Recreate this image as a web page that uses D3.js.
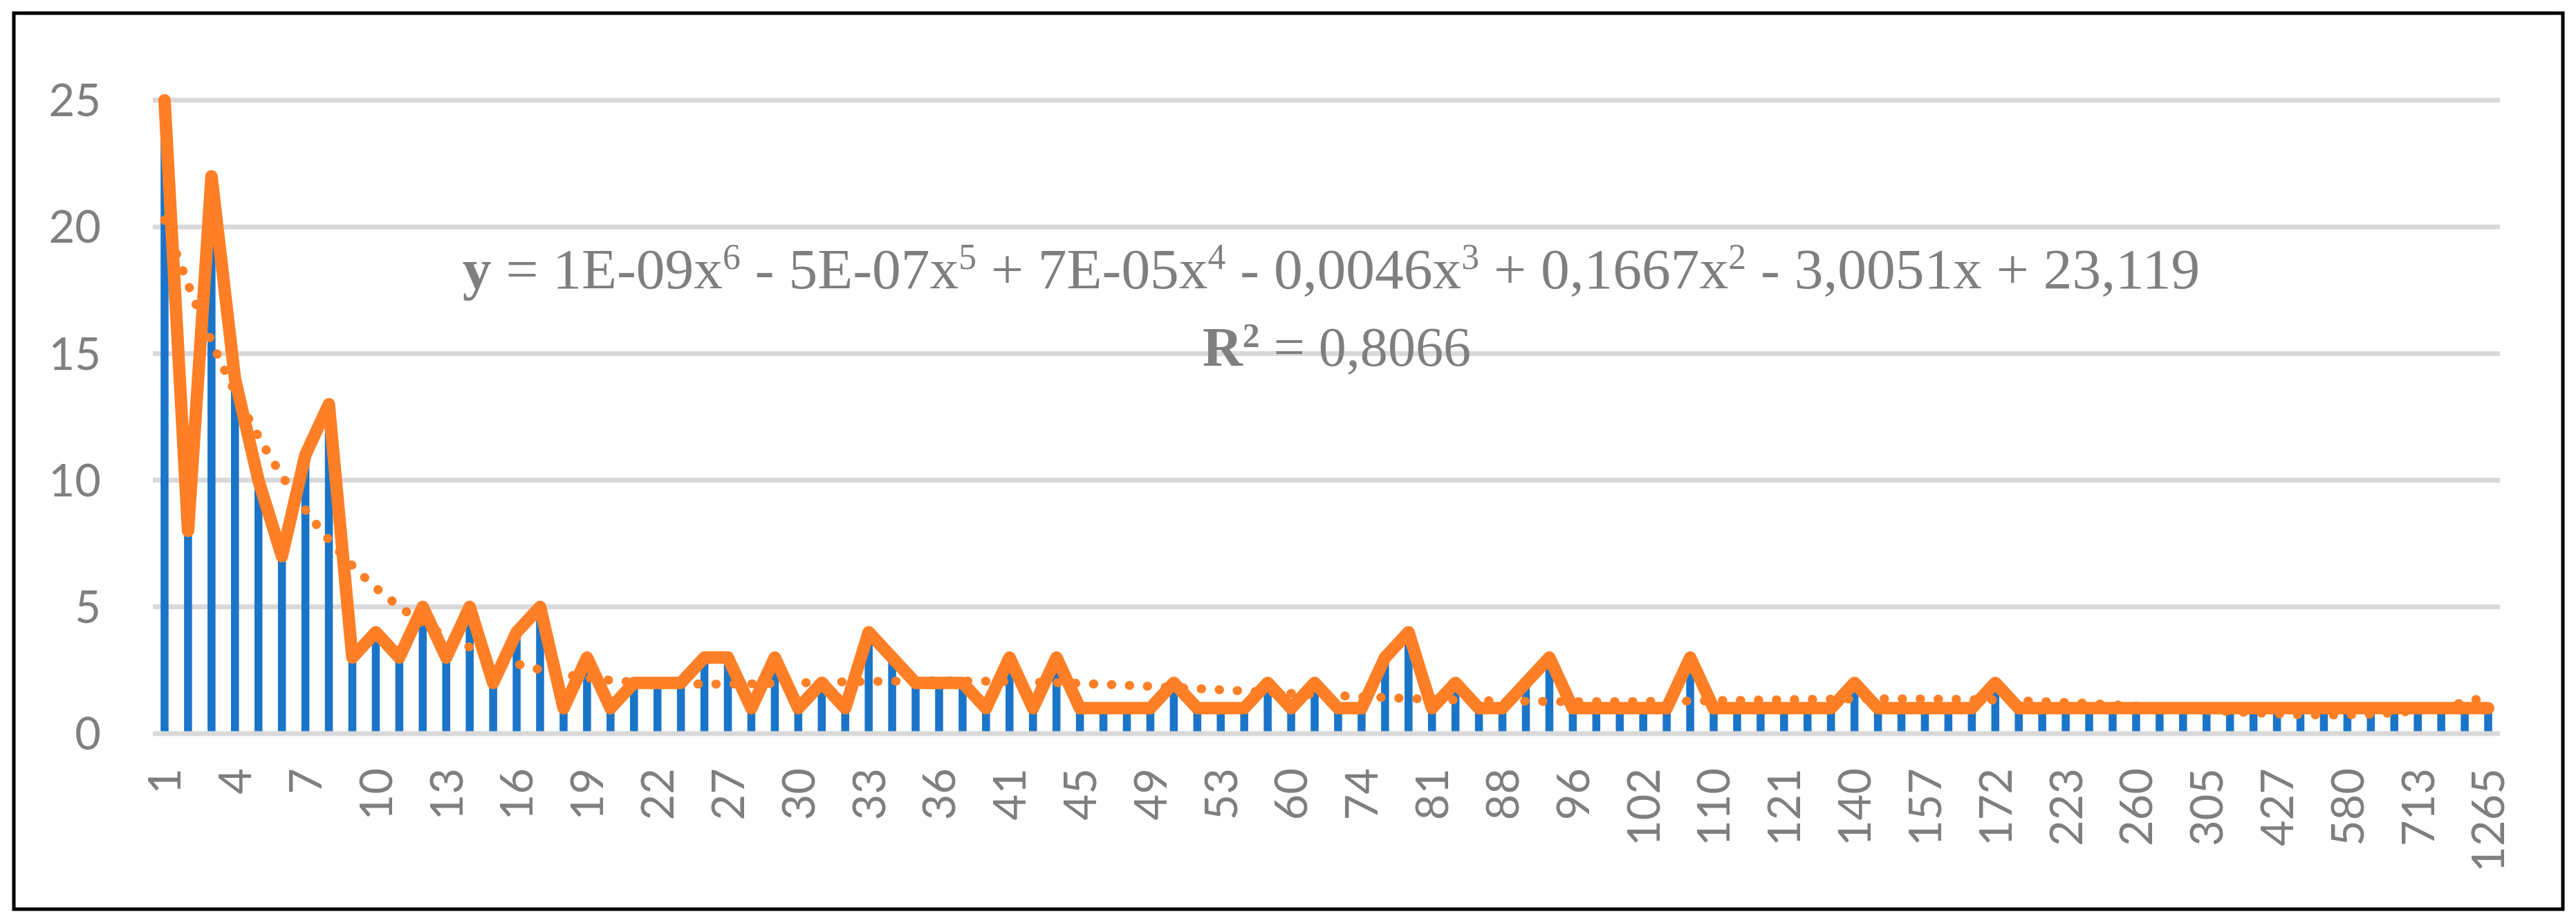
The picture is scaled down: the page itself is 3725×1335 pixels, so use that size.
<!DOCTYPE html>
<html>
<head>
<meta charset="utf-8">
<script src="https://cdn.jsdelivr.net/npm/d3@7"></script>
<style>
  html, body { margin: 0; padding: 0; background: #ffffff; }
  svg { display: block; }
</style>
</head>
<body>
<svg id="chart" width="3725" height="1335"></svg>
<script>
// ---------- DATA ----------
const categories = [
  "1","2","3","4","5","6","7","8","9","10",
  "11","12","13","14","15","16","17","18","19","20",
  "21","22","23","25","27","28","29","30","31","32",
  "33","34","35","36","38","40","41","42","44","45",
  "47","48","49","50","51","53","55","58","60","64",
  "70","74","76","78","81","84","86","88","90","94",
  "96","98","100","102","105","107","110","113","118","121",
  "125","133","140","145","150","157","162","168","172","185",
  "200","223","235","250","260","270","290","305","340","380",
  "427","470","520","580","620","670","713","800","1000","1265"
];
const values = [
  25, 8, 22, 14, 10, 7, 11, 13, 3, 4,
  3, 5, 3, 5, 2, 4, 5, 1, 3, 1,
  2, 2, 2, 3, 3, 1, 3, 1, 2, 1,
  4, 3, 2, 2, 2, 1, 3, 1, 3, 1,
  1, 1, 1, 2, 1, 1, 1, 2, 1, 2,
  1, 1, 3, 4, 1, 2, 1, 1, 2, 3,
  1, 1, 1, 1, 1, 3, 1, 1, 1, 1,
  1, 1, 2, 1, 1, 1, 1, 1, 2, 1,
  1, 1, 1, 1, 1, 1, 1, 1, 1, 1,
  1, 1, 1, 1, 1, 1, 1, 1, 1, 1
];
const yTicks = [0, 5, 10, 15, 20, 25];
const labelEvery = 3;
const equationParts = [
  {t: "y", bold: true}, {t: " = 1E-09x"}, {t: "6", sup: true},
  {t: " - 5E-07x"}, {t: "5", sup: true},
  {t: " + 7E-05x"}, {t: "4", sup: true},
  {t: " - 0,0046x"}, {t: "3", sup: true},
  {t: " + 0,1667x"}, {t: "2", sup: true},
  {t: " - 3,0051x + 23,119"}
];
const r2Parts = [{t: "R", bold: true}, {t: "2", sup: true, bold: true}, {t: " = 0,8066"}];
const polyDegree = 6;

// ---------- LAYOUT ----------
const svg = d3.select("#chart");
const plot = {left: 221, right: 3615, top: 145, bottom: 1061};
const axisGrey = "#7f7f7f";
const gridGrey = "#d9d9d9";
const blue = "#1a75c9";
const orange = "#fe7f26";

svg.append("rect").attr("x", 0).attr("y", 0).attr("width", 3725).attr("height", 1335).attr("fill", "#fff");
svg.append("rect").attr("x", 20).attr("y", 19).attr("width", 3686).attr("height", 1296)
  .attr("fill", "none").attr("stroke", "#000").attr("stroke-width", 5);

const x = d3.scaleBand().domain(categories).range([plot.left, plot.right])
  .paddingInner(0.66).paddingOuter(0.33);
const y = d3.scaleLinear().domain([0, 25]).range([plot.bottom, plot.top]);
const cx = c => x(c) + x.bandwidth() / 2;

// gridlines
svg.append("g").selectAll("line").data(yTicks.filter(d => d > 0)).join("line")
  .attr("x1", plot.left).attr("x2", plot.right)
  .attr("y1", d => y(d)).attr("y2", d => y(d))
  .attr("stroke", gridGrey).attr("stroke-width", 7);

// y axis labels
const yAxis = d3.axisLeft(y).tickValues(yTicks).tickSize(0).tickPadding(0).tickFormat(d3.format("d"));
const gy = svg.append("g").attr("transform", "translate(146,0)").call(yAxis);
gy.select(".domain").remove();
gy.selectAll("text").attr("font-family", "Lato, 'Open Sans', sans-serif")
  .attr("font-size", 65).attr("fill", axisGrey).attr("dy", "0.35em");

// bars
svg.append("g").selectAll("rect").data(values).join("rect")
  .attr("x", (d, i) => x(categories[i]))
  .attr("width", x.bandwidth())
  .attr("y", d => y(d))
  .attr("height", d => y(0) - y(d))
  .attr("fill", blue);

// zero axis line
svg.append("line").attr("x1", plot.left).attr("x2", plot.right)
  .attr("y1", y(0)).attr("y2", y(0)).attr("stroke", gridGrey).attr("stroke-width", 7);

// x axis labels
const xAxis = d3.axisBottom(x)
  .tickValues(categories.filter((c, i) => i % labelEvery === 0))
  .tickSize(0).tickPadding(0);
const gx = svg.append("g").attr("transform", `translate(0,${y(0)})`).call(xAxis);
gx.select(".domain").remove();
gx.selectAll(".tick text")
  .attr("font-family", "Lato, 'Open Sans', sans-serif")
  .attr("font-size", 65).attr("fill", axisGrey)
  .attr("text-anchor", "end")
  .attr("transform", "translate(0,50) rotate(-90)")
  .attr("x", 0).attr("y", 0).attr("dy", "0.36em");

// polynomial trendline (least squares, order 6) from the data
function polyFit(xs, ys, deg) {
  const n = deg + 1;
  const A = Array.from({length: n}, () => new Array(n + 1).fill(0));
  for (let k = 0; k < xs.length; k++) {
    const p = [];
    for (let j = 0; j < n; j++) p.push(Math.pow(xs[k], j));
    for (let r = 0; r < n; r++) {
      for (let c = 0; c < n; c++) A[r][c] += p[r] * p[c];
      A[r][n] += p[r] * ys[k];
    }
  }
  for (let c = 0; c < n; c++) {
    let piv = c;
    for (let r = c + 1; r < n; r++) if (Math.abs(A[r][c]) > Math.abs(A[piv][c])) piv = r;
    [A[c], A[piv]] = [A[piv], A[c]];
    for (let r = 0; r < n; r++) {
      if (r === c) continue;
      const f = A[r][c] / A[c][c];
      for (let k = c; k <= n; k++) A[r][k] -= f * A[c][k];
    }
  }
  return A.map((row, i) => row[n] / row[i]);
}
const xsScaled = values.map((v, i) => (i + 1) / 100);
const coef = polyFit(xsScaled, values, polyDegree);
const polyEval = t => coef.reduce((s, c, j) => s + c * Math.pow(t, j), 0);
const xPos = d3.scaleLinear().domain([1, categories.length])
  .range([cx(categories[0]), cx(categories[categories.length - 1])]);
const trendPts = d3.range(1, categories.length + 0.001, 0.25);
svg.append("path")
  .datum(trendPts)
  .attr("d", d3.line().x(t => xPos(t)).y(t => y(polyEval(t / 100))))
  .attr("fill", "none").attr("stroke", orange).attr("stroke-width", 13)
  .attr("stroke-linecap", "round").attr("stroke-dasharray", "0.5 25.5");

// main line
svg.append("path")
  .datum(values)
  .attr("d", d3.line().x((d, i) => cx(categories[i])).y(d => y(d)))
  .attr("fill", "none").attr("stroke", orange).attr("stroke-width", 18)
  .attr("stroke-linejoin", "round").attr("stroke-linecap", "round");

// equation labels
function richText(parts, cxPos, baseY, size, targetWidth) {
  const t = svg.append("text").attr("x", cxPos).attr("y", baseY)
    .attr("text-anchor", "middle")
    .attr("font-family", "'Liberation Serif', 'Times New Roman', serif")
    .attr("font-size", size).attr("fill", axisGrey);
  parts.forEach(p => {
    const s = t.append("tspan").text(p.t);
    if (p.bold) s.attr("font-weight", "bold");
    if (p.sup) s.attr("baseline-shift", "super").attr("font-size", "0.62em");
  });
  if (targetWidth) {
    const w = t.node().getComputedTextLength();
    if (w > 0) t.attr("font-size", size * targetWidth / w);
  }
  return t;
}
richText(equationParts, 1925, 417, 78, 2513);
richText(r2Parts, 1933, 529, 78, 388);
</script>
</body>
</html>
